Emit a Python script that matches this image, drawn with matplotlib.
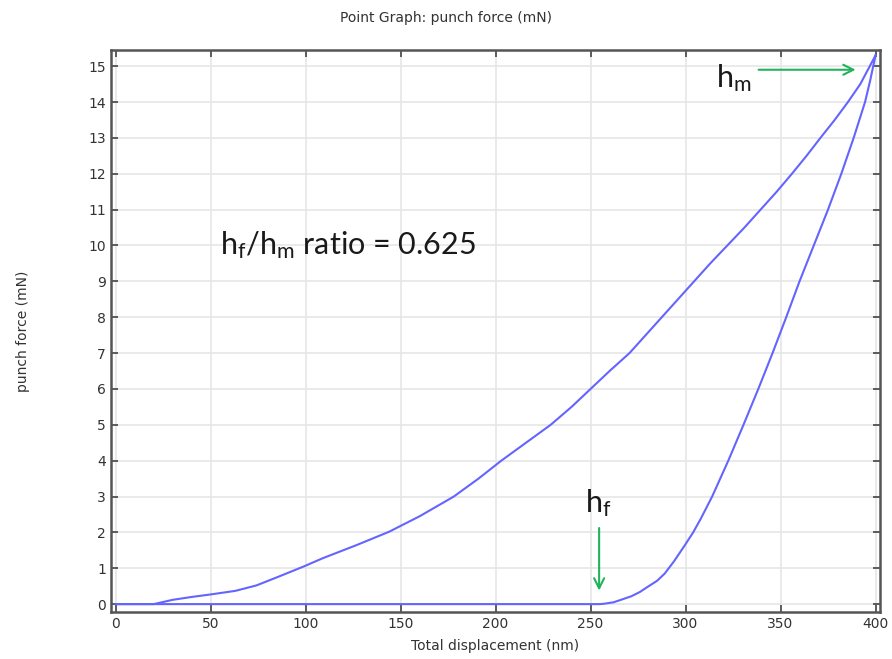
import numpy as np
import matplotlib
matplotlib.use('Agg')
import matplotlib.pyplot as plt

plt.rcParams['mathtext.fontset'] = 'custom'
plt.rcParams['mathtext.rm'] = 'Lato'
plt.rcParams['mathtext.it'] = 'Lato'

# loading branch (nm, mN)
load_x = [0, 20, 25, 30, 40, 50, 63, 74, 85, 99, 109, 127, 144, 160, 178, 191,
          203, 216, 229, 240, 250, 260, 270.5, 279, 287.5, 296, 304.5, 313, 322,
          331, 339.5, 348, 356, 363.7, 371, 378.5, 385.5, 392, 400]
load_y = [0, 0, 0.06, 0.12, 0.2, 0.27, 0.37, 0.52, 0.75, 1.05, 1.28, 1.65, 2.02,
          2.45, 3.0, 3.5, 4.0, 4.5, 5.0, 5.5, 6.0, 6.5, 7.0, 7.5, 8.0, 8.5, 9.0,
          9.5, 10.0, 10.5, 11.0, 11.5, 12.0, 12.5, 13.0, 13.5, 14.0, 14.5, 15.3]

# unloading branch (nm, mN)
unload_x = [400, 397.2, 394.5, 388.5, 382, 375, 367.5, 360, 353, 345.8,
            338.3, 330.5, 322.5, 314, 308, 304, 299.6, 294, 289, 285, 280, 276,
            271.5, 266, 262, 257, 255, 0]
unload_y = [15.3, 14.6, 14.0, 13.0, 12.0, 11.0, 10.0, 9.0, 8.0, 7.0, 6.0, 5.0,
            4.0, 3.0, 2.38, 2.0, 1.64, 1.2, 0.85, 0.65, 0.48, 0.34, 0.22, 0.12,
            0.05, 0.01, 0, 0]

xticks = np.arange(0, 401, 50)
yticks = np.arange(0, 16, 1)

fig = plt.figure(figsize=(8.92, 6.59), dpi=100)
ax = fig.add_axes([0.1244, 0.0713, 0.862, 0.8528])

ax.plot(load_x, load_y, color='#6464ff', lw=1.5)
ax.plot(unload_x, unload_y, color='#6464ff', lw=1.5)

ax.set_xlim(-2.5, 402.3)
ax.set_ylim(-0.22, 15.45)
ax.set_xticks(xticks)
ax.set_yticks(yticks)
ax.grid(True, color='#e6e6e6', lw=1.2)
ax.set_axisbelow(True)
ax.tick_params(direction='in', top=True, right=True, length=5, width=1.2,
               color='#444444', labelcolor='#333333', labelsize=10)
for s in ax.spines.values():
    s.set_color('#555555')
    s.set_linewidth(1.8)

ax.set_xlabel('Total displacement (nm)', fontsize=10, color='#333333', labelpad=6)
ax.set_ylabel('punch force (mN)', fontsize=10, color='#333333', labelpad=42)
fig.text(0.5, 0.972, 'Point Graph: punch force (mN)', ha='center', va='center',
         fontsize=10, color='#333333')

# annotations
ax.text(55, 9.75, r'h$_\mathregular{f}$/h$_\mathregular{m}$ ratio = 0.625',
        fontsize=22, family='Lato', color='#1a1a1a')
ax.text(316, 14.4, r'h$_\mathregular{m}$', fontsize=22, family='Lato', color='#1a1a1a')
ax.text(247, 2.55, r'h$_\mathregular{f}$', fontsize=22, family='Lato', color='#1a1a1a')
ax.annotate('', xy=(391, 14.9), xytext=(337, 14.9),
            arrowprops=dict(arrowstyle='->', color='#22b35a', lw=1.5, mutation_scale=18))
ax.annotate('', xy=(254.5, 0.3), xytext=(254.5, 2.2),
            arrowprops=dict(arrowstyle='->', color='#22b35a', lw=1.5, mutation_scale=18))

fig.savefig('out.png', dpi=100)
